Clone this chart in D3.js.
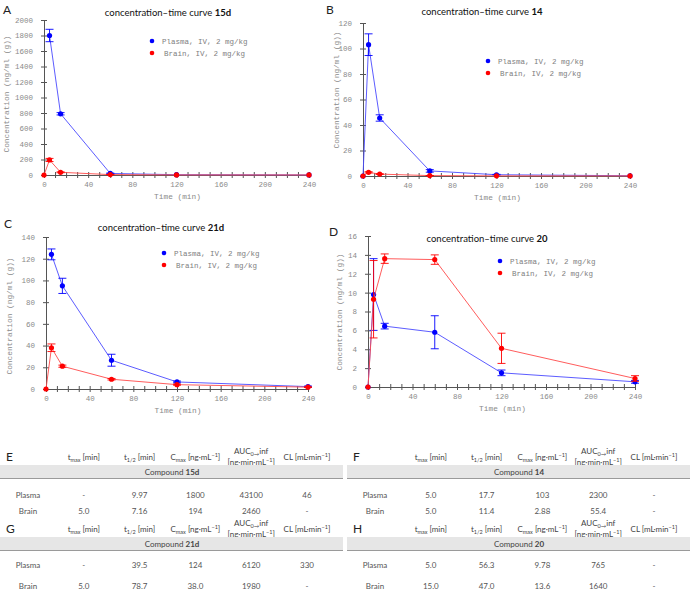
<!DOCTYPE html>
<html>
<head>
<meta charset="utf-8">
<script src="https://cdn.jsdelivr.net/npm/d3@7"></script>
<style>
  body { margin: 0; background: #fff; }
  svg { display: block; }
</style>
</head>
<body>
<div id="chart"></div>
<script>
// sampling times (min)
const times = [0, 5, 15, 60, 120, 240];

// concentrations, null = no point
const plasma15d = [null, 1800, 790, 20, 4, 1];
const plasma15dErr = [0, 80, 15, 5, 0, 0];
const brain15d = [0, 194, 35, 5, 1, 0.5];
const brain15dErr = [0, 20, 6, 2, 0, 0];

const plasma14 = [0, 103, 45.5, 4, 1, 0.2];
const plasma14Err = [0, 8.5, 2.5, 1, 0.3, 0];
const brain14 = [0, 2.88, 1.5, 0.3, 0.1, 0.05];
const brain14Err = [0, 0.5, 0.3, 0.1, 0, 0];

const plasma21d = [null, 124, 95, 26.5, 6.5, 2.2];
const plasma21dErr = [0, 5, 7, 5.5, 0.8, 0.5];
const brain21d = [0, 38, 21, 9, 4, 1.7];
const brain21dErr = [0, 3.5, 1, 0.7, 0.5, 0.3];

const plasma20 = [0, 9.8, 6.45, 5.8, 1.5, 0.55];
const plasma20Err = [0, 3.8, 0.3, 1.75, 0.3, 0.15];
const brain20 = [0, 9.3, 13.6, 13.5, 4.1, 0.9];
const brain20Err = [0, 4.1, 0.5, 0.5, 1.6, 0.3];

// PK tables
const rowLabels = ["Plasma", "Brain"];
const plasma15dPK = ["-", "9.97", "1800", "43100", "46"];
const brain15dPK = ["5.0", "7.16", "194", "2460", "-"];
const plasma14PK = ["5.0", "17.7", "103", "2300", "-"];
const brain14PK = ["5.0", "11.4", "2.88", "55.4", "-"];
const plasma21dPK = ["-", "39.5", "124", "6120", "330"];
const brain21dPK = ["5.0", "78.7", "38.0", "1980", "-"];
const plasma20PK = ["5.0", "56.3", "9.78", "765", "-"];
const brain20PK = ["15.0", "47.0", "13.6", "1640", "-"];

const plasmaLegend = "Plasma, IV, 2 mg/kg";
const brainLegend = "Brain, IV, 2 mg/kg";

const mono = "'Liberation Mono', 'DejaVu Sans Mono', monospace";
const sans = "Lato, 'Open Sans', sans-serif";
const blue = "#0000ff", red = "#ff0000";

const svg = d3.select("#chart")
  .append("svg")
  .attr("width", 691)
  .attr("height", 608);

function drawChart(cfg) {
  const x = d3.scaleLinear().domain([0, 240]).range([cfg.x0, cfg.x1]);
  const y = d3.scaleLinear().domain([0, cfg.ymax]).range([cfg.y0, cfg.yTop]);
  const g = svg.append("g");

  // axes
  const xAxis = g.append("g")
    .attr("transform", `translate(0,${cfg.y0})`)
    .call(d3.axisBottom(x)
      .tickValues(d3.range(0, 241, 10))
      .tickFormat(d => d % 40 === 0 ? d : "")
      .tickSizeInner(3).tickSizeOuter(0).tickPadding(4));
  xAxis.selectAll(".tick line").attr("y1", -3).attr("y2", 3);

  const yAxis = g.append("g")
    .attr("transform", `translate(${cfg.x0},0)`)
    .call(d3.axisLeft(y)
      .tickValues(d3.range(0, cfg.ymax + cfg.step / 2, cfg.step))
      .tickFormat(d3.format("d"))
      .tickSizeInner(3).tickSizeOuter(0).tickPadding(8));
  yAxis.selectAll(".tick line").attr("x1", -3).attr("x2", 3);

  [xAxis, yAxis].forEach(a => {
    a.selectAll("path, line").attr("stroke", "#555");
    a.selectAll("text").attr("font-family", mono).attr("font-size", "7.5px").attr("fill", "#8a8a8a");
  });

  // axis labels
  g.append("text")
    .attr("x", (cfg.x0 + cfg.x1) / 2 + 1)
    .attr("y", cfg.y0 + 24)
    .attr("text-anchor", "middle")
    .attr("font-family", mono).attr("font-size", "7.8px").attr("fill", "#8a8a8a")
    .text("Time (min)");

  g.append("text")
    .attr("transform", `translate(${cfg.ylabX},${cfg.ylabY}) rotate(-90)`)
    .attr("text-anchor", "middle")
    .attr("font-family", mono).attr("font-size", "7.8px").attr("fill", "#8a8a8a")
    .text("Concentration (ng/ml (g))");

  // title
  const title = g.append("text")
    .attr("x", cfg.titleX).attr("y", cfg.titleY)
    .attr("text-anchor", "middle")
    .attr("font-family", sans).attr("font-size", "9.5px").attr("fill", "#111");
  title.append("tspan").text("concentration\u2013time curve ");
  title.append("tspan").attr("font-weight", "bold").text(cfg.name);

  // panel letter
  g.append("text")
    .attr("x", cfg.letterX).attr("y", cfg.letterY)
    .attr("font-family", sans).attr("font-size", "12px").attr("fill", "#222")
    .text(cfg.letter);

  // series
  const series = [
    { vals: cfg.plasma, err: cfg.plasmaErr, color: blue, line: "#4a4aff" },
    { vals: cfg.brain, err: cfg.brainErr, color: red, line: "#ff4a4a" }
  ];

  series.forEach(s => {
    const pts = times.map((t, i) => ({ t: t, v: s.vals[i], e: s.err[i] })).filter(d => d.v !== null);

    g.append("path")
      .attr("fill", "none")
      .attr("stroke", s.line)
      .attr("stroke-width", 0.9)
      .attr("d", d3.line().x(d => x(d.t)).y(d => y(d.v))(pts));

    const bars = g.append("g").attr("stroke", s.color).attr("stroke-width", 0.9);
    pts.filter(d => d.e > 0).forEach(d => {
      bars.append("line")
        .attr("x1", x(d.t)).attr("x2", x(d.t))
        .attr("y1", y(d.v - d.e)).attr("y2", y(d.v + d.e));
      [d.v - d.e, d.v + d.e].forEach(v => {
        bars.append("line")
          .attr("x1", x(d.t) - 4).attr("x2", x(d.t) + 4)
          .attr("y1", y(v)).attr("y2", y(v));
      });
    });

    g.append("g").selectAll("circle")
      .data(pts)
      .enter()
      .append("circle")
      .attr("cx", d => x(d.t))
      .attr("cy", d => y(d.v))
      .attr("r", 2.6)
      .attr("fill", s.color);
  });

  // legend
  [[plasmaLegend, blue, 0, 0], [brainLegend, red, 12, 2]].forEach(([label, color, dy, dx]) => {
    g.append("circle")
      .attr("cx", cfg.legX).attr("cy", cfg.legY + dy)
      .attr("r", 2.3).attr("fill", color);
    g.append("text")
      .attr("x", cfg.legX + 10 + dx).attr("y", cfg.legY + dy + 2.5)
      .attr("font-family", mono).attr("font-size", "7.5px").attr("fill", "#808080")
      .text(label);
  });
}

drawChart({ name: "15d", letter: "A", letterX: 3, letterY: 14,
  x0: 44, x1: 309, y0: 175, yTop: 20, ymax: 2000, step: 200,
  titleX: 168, titleY: 16, ylabX: 9, ylabY: 94, legX: 152, legY: 41,
  plasma: plasma15d, plasmaErr: plasma15dErr, brain: brain15d, brainErr: brain15dErr });

drawChart({ name: "14", letter: "B", letterX: 326, letterY: 14,
  x0: 363, x1: 630, y0: 176, yTop: 23, ymax: 120, step: 20,
  titleX: 482, titleY: 15, ylabX: 339, ylabY: 90, legX: 488, legY: 61,
  plasma: plasma14, plasmaErr: plasma14Err, brain: brain14, brainErr: brain14Err });

drawChart({ name: "21d", letter: "C", letterX: 4, letterY: 228,
  x0: 46, x1: 308, y0: 389, yTop: 237, ymax: 140, step: 20,
  titleX: 161, titleY: 231, ylabX: 12, ylabY: 316, legX: 164, legY: 253,
  plasma: plasma21d, plasmaErr: plasma21dErr, brain: brain21d, brainErr: brain21dErr });

drawChart({ name: "20", letter: "D", letterX: 329, letterY: 236,
  x0: 368, x1: 635, y0: 387, yTop: 236, ymax: 16, step: 2,
  titleX: 487, titleY: 242, ylabX: 342, ylabY: 312, legX: 500, legY: 261,
  plasma: plasma20, plasmaErr: plasma20Err, brain: brain20, brainErr: brain20Err });

// ---------- tables ----------
const colKeys = ["label", "tmax", "thalf", "cmax", "auc", "cl"];

function drawTable(cfg) {
  const g = svg.append("g");
  const col = d3.scalePoint().domain(colKeys).range([cfg.x + 28, cfg.x + 307]);
  const txt = (x, y, size, fill) => g.append("text")
    .attr("x", x).attr("y", y).attr("text-anchor", "middle")
    .attr("font-family", sans).attr("font-size", size).attr("fill", fill);

  g.append("text")
    .attr("x", cfg.x + 6).attr("y", cfg.y + 4)
    .attr("font-family", sans).attr("font-size", "12px").attr("fill", "#222")
    .text(cfg.letter);

  // headers
  const hy = cfg.y + 3;
  const sub = (t, main, s, rest) => {
    t.append("tspan").text(main);
    t.append("tspan").attr("font-size", "5.5px").attr("dy", 2).text(s);
    t.append("tspan").attr("dy", -2).text(rest);
  };
  sub(txt(col("tmax"), hy, "8px", "#444"), "t", "max", " [min]");
  sub(txt(col("thalf"), hy, "8px", "#444"), "t", "1/2", " [min]");
  const cm = txt(col("cmax"), hy, "8px", "#444");
  cm.append("tspan").text("C");
  cm.append("tspan").attr("font-size", "5.5px").attr("dy", 2).text("max");
  cm.append("tspan").attr("dy", -2).text(" [ng\u00b7mL");
  cm.append("tspan").attr("font-size", "5.5px").attr("dy", -3).text("\u22121");
  cm.append("tspan").attr("dy", 3).text("]");
  const au = txt(col("auc"), hy - 6, "8px", "#444");
  au.append("tspan").text("AUC");
  au.append("tspan").attr("font-size", "5.5px").attr("dy", 2).text("0\u2192");
  au.append("tspan").attr("dy", -2).text("inf");
  const au2 = txt(col("auc"), hy + 5, "8px", "#444");
  au2.append("tspan").text("[ng\u00b7min\u00b7mL");
  au2.append("tspan").attr("font-size", "5.5px").attr("dy", -3).text("\u22121");
  au2.append("tspan").attr("dy", 3).text("]");
  const cl = txt(col("cl"), hy, "8px", "#444");
  cl.append("tspan").text("CL [mL\u00b7min");
  cl.append("tspan").attr("font-size", "5.5px").attr("dy", -3).text("\u22121");
  cl.append("tspan").attr("dy", 3).text("]");

  // compound band
  g.append("rect")
    .attr("x", cfg.x).attr("y", cfg.y + 8)
    .attr("width", 343).attr("height", 13)
    .attr("fill", "#e6e6e6");
  g.append("line")
    .attr("x1", cfg.x).attr("x2", cfg.x + 343)
    .attr("y1", cfg.y + 21.5).attr("y2", cfg.y + 21.5)
    .attr("stroke", "#9a9a9a").attr("stroke-width", 1);
  const ct = txt(cfg.x + 172, cfg.y + 18, "8px", "#444");
  ct.append("tspan").text("Compound ");
  ct.append("tspan").attr("font-weight", "bold").text(cfg.name);

  // rows
  [cfg.plasma, cfg.brain].forEach((vals, r) => {
    const ry = cfg.y + cfg.row1 + r * cfg.rowGap;
    txt(col("label"), ry, "8px", "#555").text(rowLabels[r]);
    vals.forEach((v, i) => txt(col(colKeys[i + 1]), ry, "8px", "#555").text(v));
  });
}

drawTable({ letter: "E", name: "15d", x: 0, y: 457, row1: 41, rowGap: 16, plasma: plasma15dPK, brain: brain15dPK });
drawTable({ letter: "F", name: "14", x: 347, y: 457, row1: 41, rowGap: 16, plasma: plasma14PK, brain: brain14PK });
drawTable({ letter: "G", name: "21d", x: 0, y: 529, row1: 39, rowGap: 21, plasma: plasma21dPK, brain: brain21dPK });
drawTable({ letter: "H", name: "20", x: 347, y: 529, row1: 39, rowGap: 21, plasma: plasma20PK, brain: brain20PK });
</script>
</body>
</html>
